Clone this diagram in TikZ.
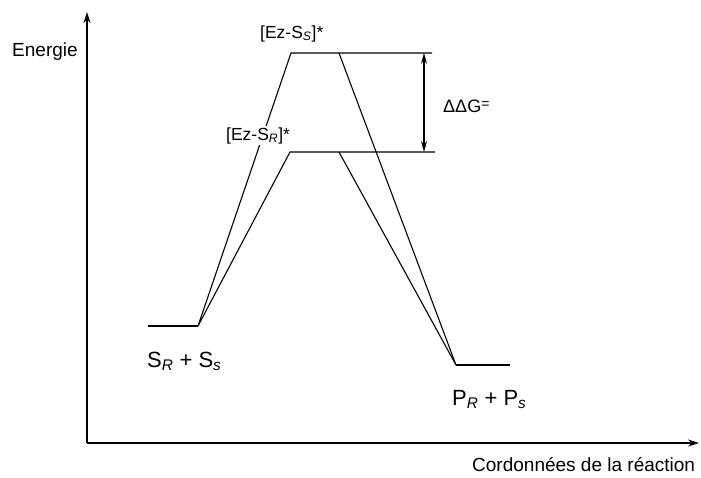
\documentclass[tikz,border=0pt]{standalone}
\usepackage{fontspec}
\setmainfont{Liberation Sans}
\usetikzlibrary{arrows.meta}
\begin{document}
\begin{tikzpicture}[x=1pt,y=-1pt,
  ln/.style={line width=1.1pt},
  axis/.style={line width=1.1pt,-{Stealth[length=11pt,width=7pt]}},
  dbl/.style={line width=1.1pt,{Stealth[length=11pt,width=6pt]}-{Stealth[length=11pt,width=6pt]}},
  txt/.style={inner sep=0pt,anchor=base west},
  ax/.style={txt,font=\fontsize{19}{22}\selectfont},
  ez/.style={txt,inner sep=1.5pt,fill=white,font=\fontsize{17.5}{21}\selectfont},
  big/.style={txt,font=\fontsize{22}{26}\selectfont}]
\useasboundingbox (0,0) rectangle (701,477);
% coordinates
\coordinate (O) at (87,443);
\coordinate (Ytop) at (87,12);
\coordinate (Xend) at (699,443);
\coordinate (L1) at (148,326);
\coordinate (L2) at (198,326);
\coordinate (S1) at (291,53);
\coordinate (S2) at (339,53);
\coordinate (Send) at (432,53);
\coordinate (R1) at (290,152);
\coordinate (R2) at (339,152);
\coordinate (Rend) at (435,152);
\coordinate (P1) at (456,365);
\coordinate (P2) at (510,365);
\coordinate (At) at (424,53);
\coordinate (Ab) at (424,152);
% axes
\draw[axis] (O) -- (Ytop);
\draw[axis] (O) -- (Xend);
% levels and paths
\draw[ln] (L1) -- (L2);
\draw[ln] (L2) -- (S1) -- (Send);
\draw[ln] (S2) -- (P1);
\draw[ln] (L2) -- (R1) -- (Rend);
\draw[ln] (R2) -- (P1);
\draw[ln] (P1) -- (P2);
\draw[dbl] (At) -- (Ab);
% labels
\node[ax] (en) at (12,56.5) {Energie};
\node[ez] (ts) at (258.5,38) {[Ez-S\textsubscript{\itshape S}]*};
\node[ez] (tr) at (224.5,140) {[Ez-S\textsubscript{\itshape R}]*};
\node[txt,font=\fontsize{18}{20}\selectfont] (dg) at (443,112) {ΔΔG\raisebox{0.35ex}{\fontsize{14}{14}\selectfont =}};
\node[big] (sub) at (147,367) {S\textsubscript{\itshape R} + S\textsubscript{\itshape s}};
\node[big] (prod) at (452,405) {P\textsubscript{\itshape R} + P\textsubscript{\itshape s}};
\node[ax] (xl) at (472,471) {Cordonnées de la réaction};
\end{tikzpicture}
\end{document}
